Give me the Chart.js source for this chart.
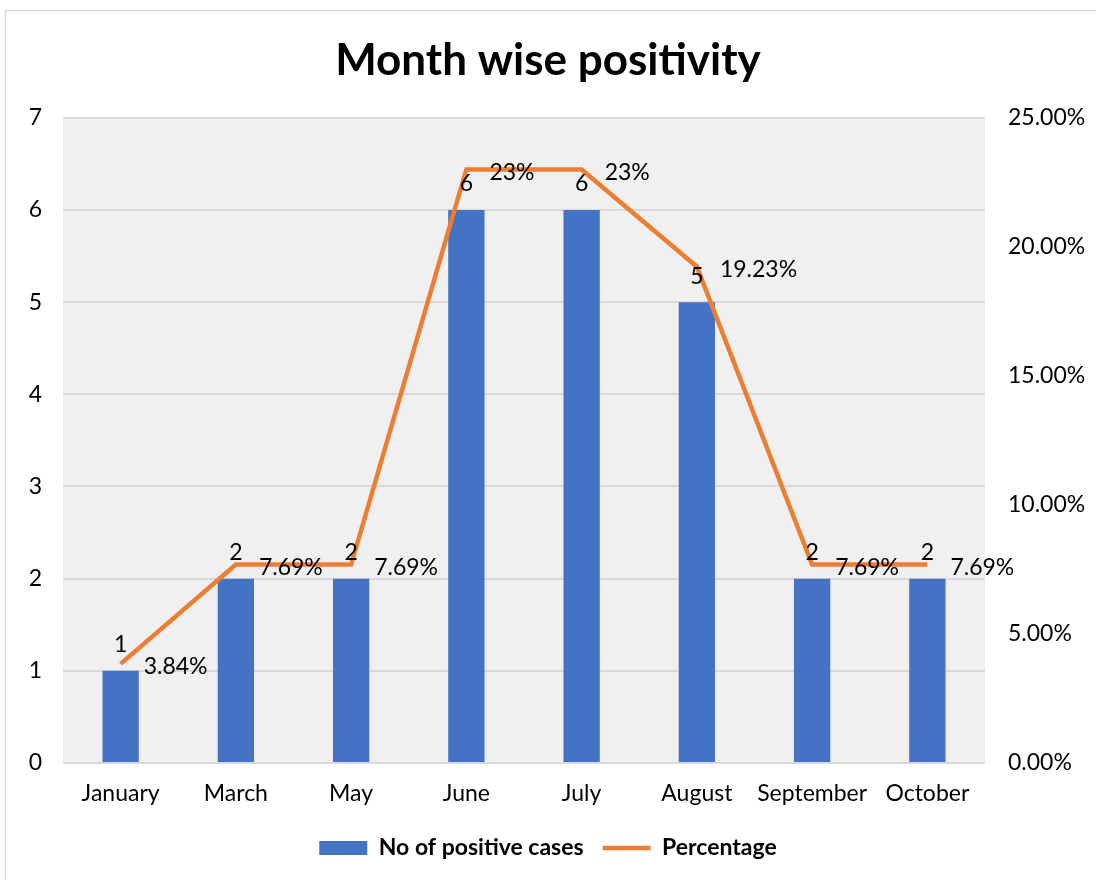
<!DOCTYPE html>
<html>
<head>
<meta charset="utf-8">
<script src="https://cdn.jsdelivr.net/npm/chart.js@4/dist/chart.umd.min.js"></script>
<style>
  html, body { margin: 0; padding: 0; background: #fff; }
  #wrap { width: 1096px; height: 880px; }
</style>
</head>
<body>
<div id="wrap"><canvas id="chart" width="1096" height="880"></canvas></div>
<script>
'use strict';

var months = ['January', 'March', 'May', 'June', 'July', 'August', 'September', 'October'];
var positiveCases = [1, 2, 2, 6, 6, 5, 2, 2];
var percentage = [3.84, 7.69, 7.69, 23, 23, 19.23, 7.69, 7.69];
var casesTicks = [0, 1, 2, 3, 4, 5, 6, 7];
var percentTicks = [0, 5, 10, 15, 20, 25];

var fontFamily = 'Lato, "Open Sans", sans-serif';
var labelSize = 23;
var blue = '#4472C4';
var orange = '#ED7D31';

var formatPct = function (v) {
    return Number.isInteger(v) ? v + '%' : v.toFixed(2) + '%';
};

// grey plot area + outer chart border
var backdrop = {
    id: 'backdrop',
    beforeDraw: function (chart) {
        var ctx = chart.ctx;
        var a = chart.chartArea;
        ctx.save();
        ctx.fillStyle = '#fff';
        ctx.fillRect(0, 0, chart.width, chart.height);
        ctx.strokeStyle = '#d9d9d9';
        ctx.lineWidth = 1.5;
        ctx.strokeRect(5.5, 10.5, 1200, 1200);
        ctx.fillStyle = '#f0f0f0';
        ctx.fillRect(a.left, a.top, a.right - a.left, a.bottom - a.top);
        ctx.restore();
    }
};

// value labels, drawn like excel data labels
var dataLabels = {
    id: 'dataLabels',
    afterDatasetsDraw: function (chart) {
        var ctx = chart.ctx;
        var bars = chart.getDatasetMeta(0).data;
        var points = chart.getDatasetMeta(1).data;
        ctx.save();
        ctx.font = labelSize + 'px ' + fontFamily;
        ctx.fillStyle = '#000';
        ctx.textBaseline = 'middle';

        ctx.textAlign = 'center';
        for (var i = 0; i < bars.length; i++) {
            ctx.fillText(String(positiveCases[i]), bars[i].x, bars[i].y - 26);
        }

        ctx.textAlign = 'left';
        for (var j = 0; j < points.length; j++) {
            ctx.fillText(formatPct(percentage[j]), points[j].x + 23, points[j].y + 3);
        }
        ctx.restore();
    }
};

var ctx = document.getElementById('chart').getContext('2d');

new Chart(ctx, {
    data: {
        labels: months,
        datasets: [
            {
                type: 'bar',
                label: 'No of positive cases',
                data: positiveCases,
                backgroundColor: blue,
                borderWidth: 0,
                categoryPercentage: 1,
                barPercentage: 0.315,
                yAxisID: 'y',
                order: 1,
                pointStyle: 'rect'
            },
            {
                type: 'line',
                label: 'Percentage',
                data: percentage,
                borderColor: orange,
                backgroundColor: orange,
                borderWidth: 4.5,
                pointRadius: 0,
                tension: 0,
                yAxisID: 'y1',
                order: 0,
                pointStyle: 'line'
            }
        ]
    },
    options: {
        responsive: false,
        animation: false,
        layout: { padding: { left: 0, right: 0, top: 0, bottom: 10.5 } },
        plugins: {
            title: {
                display: true,
                text: 'Month wise positivity',
                color: '#000',
                font: { family: fontFamily, size: 44, weight: 'bold' },
                padding: { top: 34, bottom: 31 }
            },
            legend: {
                position: 'bottom',
                labels: {
                    usePointStyle: true,
                    pointStyleWidth: 48,
                    boxHeight: 14,
                    padding: 19,
                    color: '#000',
                    font: { family: fontFamily, size: labelSize, weight: 'bold' },
                    sort: function (a, b) { return a.datasetIndex - b.datasetIndex; }
                }
            },
            tooltip: { enabled: false }
        },
        scales: {
            x: {
                grid: { display: false, drawTicks: false },
                border: { display: false },
                ticks: {
                    color: '#000',
                    padding: 17,
                    autoSkip: false,
                    maxRotation: 0,
                    minRotation: 0,
                    font: { family: fontFamily, size: labelSize }
                },
                afterFit: function (scale) { scale.height = 54.5; }
            },
            y: {
                position: 'left',
                min: 0,
                max: 7,
                afterBuildTicks: function (scale) {
                    scale.ticks = casesTicks.map(function (v) { return { value: v }; });
                },
                grid: { color: '#d9d9d9', lineWidth: 2, drawTicks: false },
                border: { display: false },
                ticks: {
                    color: '#000',
                    padding: 21,
                    font: { family: fontFamily, size: labelSize }
                },
                afterFit: function (scale) { scale.width = 63; }
            },
            y1: {
                position: 'right',
                min: 0,
                max: 25,
                afterBuildTicks: function (scale) {
                    scale.ticks = percentTicks.map(function (v) { return { value: v }; });
                },
                grid: { display: false, drawTicks: false },
                border: { display: false },
                ticks: {
                    color: '#000',
                    padding: 23,
                    font: { family: fontFamily, size: labelSize },
                    callback: function (v) { return Number(v).toFixed(2) + '%'; }
                },
                afterFit: function (scale) { scale.width = 111; }
            }
        }
    },
    plugins: [backdrop, dataLabels]
});
</script>
</body>
</html>
